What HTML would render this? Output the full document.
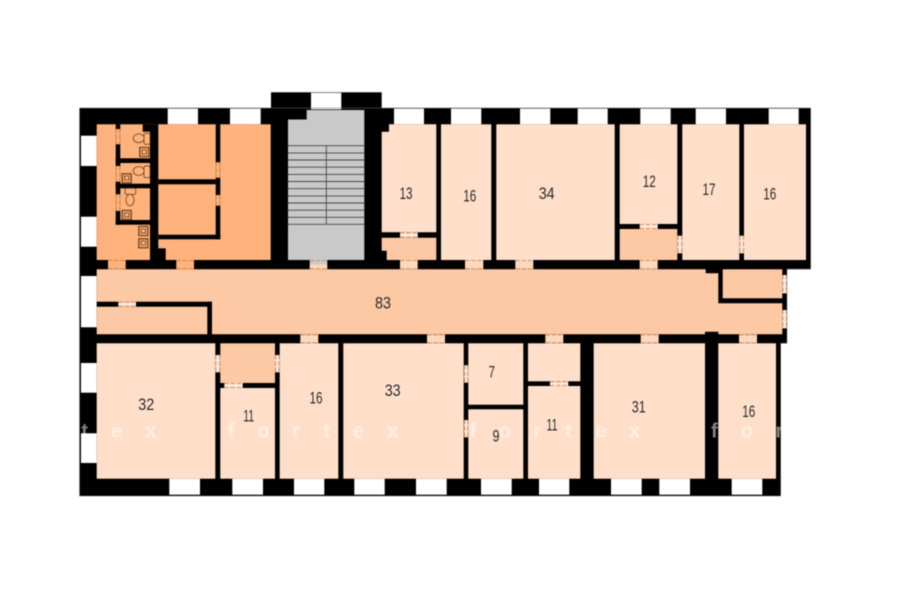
<!DOCTYPE html>
<html>
<head>
<meta charset="utf-8">
<style>
html,body{margin:0;padding:0;background:#fff;width:900px;height:604px;overflow:hidden}
svg{display:block;filter:blur(.4px)}
.k{fill:#000}
.w{fill:#fff}
.a{fill:#ffb27b}
.c{fill:#fdc9a4}
.r{fill:#ffdfca}
.d{fill:#fed8bd}
.l{fill:#ffe8da}
.o{fill:#ffb27b}
.dl{stroke:#cc9268;stroke-width:1.1;fill:none;stroke-dasharray:4.4 1.8}
.da{stroke:#c98650;stroke-width:1.1;fill:none;stroke-dasharray:4.4 1.8}
.t{fill:none;stroke:#7a4a25;stroke-width:.9}
.s{stroke:#444;stroke-width:.9}
.n{font-family:"Liberation Sans",sans-serif;font-size:16.5px;fill:#2a2a2a;text-anchor:middle}
.m{font-family:"Liberation Sans",sans-serif;font-size:20px;font-weight:bold;fill:#fff;fill-opacity:.5;text-anchor:middle}
</style>
</head>
<body>
<svg width="900" height="604" viewBox="0 0 900 604" xmlns="http://www.w3.org/2000/svg">
<rect width="900" height="604" fill="#fff"/>

<!-- black silhouette -->
<rect class="k" x="79.5" y="108" width="731.2" height="161.3"/>
<rect class="k" x="271" y="92.3" width="110.7" height="20"/>
<rect class="k" x="79.5" y="265" width="707.5" height="78.3"/>
<rect class="k" x="79.5" y="343" width="701.2" height="153"/>

<!-- windows -->
<g class="w">
<rect x="311" y="92.8" width="30.3" height="16.5"/>
<rect x="167.7" y="108.6" width="30.3" height="15.7"/>
<rect x="230" y="108.6" width="30.7" height="15.7"/>
<rect x="394" y="108.6" width="30" height="15.7"/>
<rect x="451" y="108.6" width="30.3" height="15.7"/>
<rect x="520" y="108.6" width="30.3" height="15.7"/>
<rect x="577.7" y="108.6" width="30" height="15.7"/>
<rect x="640.3" y="108.6" width="30.4" height="15.7"/>
<rect x="695.7" y="108.6" width="30.3" height="15.7"/>
<rect x="768.7" y="108.6" width="30" height="15.7"/>
<rect x="81" y="135.7" width="15.7" height="30.3"/>
<rect x="81" y="216.7" width="15.7" height="30"/>
<rect x="81" y="276" width="15.7" height="51.3"/>
<rect x="81" y="363" width="15.7" height="29.7"/>
<rect x="81" y="433.3" width="15.7" height="29.7"/>
<rect x="169.3" y="478.7" width="30.7" height="16"/>
<rect x="232.3" y="478.7" width="30.7" height="16"/>
<rect x="294" y="478.7" width="30.3" height="16"/>
<rect x="354.3" y="478.7" width="30.4" height="16"/>
<rect x="416" y="478.7" width="30.7" height="16"/>
<rect x="481" y="478.7" width="30.7" height="16"/>
<rect x="539" y="478.7" width="30.3" height="16"/>
<rect x="611" y="478.7" width="30.7" height="16"/>
<rect x="659.3" y="478.7" width="30.7" height="16"/>
<rect x="731.7" y="478.7" width="30.6" height="16"/>
</g>

<!-- left wing -->
<rect class="a" x="96.7" y="124.3" width="174" height="135.7"/>
<g class="k">
<rect x="115.7" y="124.3" width="4.6" height="100.4"/>
<rect x="115.7" y="158.3" width="34.3" height="4.7"/>
<rect x="115.7" y="183.7" width="34.3" height="4.6"/>
<rect x="115.7" y="220" width="34.3" height="4.7"/>
<rect x="150" y="124.3" width="8.3" height="135.7"/>
<rect x="142.7" y="124.3" width="7.3" height="7.4"/>
<rect x="150" y="248.3" width="15.7" height="11.7"/>
<rect x="215.7" y="124.3" width="4.6" height="115"/>
<rect x="158.3" y="179.3" width="57.4" height="5"/>
<rect x="158.3" y="234.7" width="62" height="4.6"/>
</g>

<!-- fixtures -->
<g class="t">
<ellipse cx="138.7" cy="138.3" rx="5.5" ry="4.4"/>
<rect x="144" y="133.3" width="6" height="11" rx="1.5" fill="#ffb27b"/>
<ellipse cx="138.7" cy="171" rx="5.5" ry="4.4"/>
<rect x="144" y="166" width="6" height="11.7" rx="1.5" fill="#ffb27b"/>
<ellipse cx="130" cy="200" rx="4" ry="5.8"/>
<rect x="125" y="188.3" width="10.7" height="6" rx="1.5" fill="#ffb27b"/>
<g stroke-width="1.4">
<rect x="139.8" y="147.5" width="9" height="9"/>
<rect x="122.2" y="173.8" width="9" height="9"/>
<rect x="122.2" y="210.5" width="9" height="9"/>
<rect x="138.8" y="226.5" width="9" height="9"/>
<rect x="138.8" y="238.8" width="9" height="9"/>
</g>
<rect x="142" y="150" width="4.5" height="4"/>
<rect x="124.5" y="176" width="4.5" height="4"/>
<rect x="124.5" y="213" width="4.5" height="4"/>
<rect x="141" y="229" width="4.5" height="4"/>
<rect x="141" y="241" width="4.5" height="4"/>
</g>

<!-- stairs -->
<path d="M306.7 110H364.3V260H288V119.5H306.7Z" fill="#c9c9c9"/>
<g class="s">
<path d="M288 145.7H364.3M288 152.9H364.3M288 160H364.3M288 167.2H364.3M288 174.4H364.3M288 181.5H364.3M288 188.7H364.3M288 195.9H364.3M288 203H364.3M288 210.2H364.3M288 217.3H364.3M288 224.3H364.3M326.3 145.7V224.3" fill="none"/>
</g>

<!-- upper rooms -->
<g class="r">
<path d="M389 124.3H436.3V232.3H381.7V131.7H389Z"/>
<rect x="441" y="124.3" width="50.3" height="135.7"/>
<rect x="496.3" y="124.3" width="118.4" height="135.7"/>
<rect x="619.7" y="124.3" width="57.6" height="99.7"/>
<rect x="682.3" y="124.3" width="57" height="135.7"/>
<rect x="744" y="124.3" width="62" height="135.7"/>
</g>
<g class="c">
<path d="M381.7 237.7H436.3V260H386.7V250.7H381.7Z"/>
<rect x="619.7" y="229" width="57.6" height="31"/>
</g>

<!-- corridor -->
<path class="c" d="M96.7 269.3H705.7V273.3H718.3V303.3H782.3V334.3H718.3V331.7H705V334.3H96.7Z"/>
<rect class="c" x="722.7" y="269.3" width="59.6" height="29"/>
<g class="k">
<rect x="96.7" y="301.7" width="115.3" height="5"/>
<rect x="207.3" y="301.7" width="4.7" height="33"/>
</g>

<!-- lower rooms -->
<g class="r">
<rect x="96.7" y="343.3" width="118.6" height="135.4"/>
<rect x="220.3" y="388" width="54.7" height="90.7"/>
<rect x="279.7" y="343.3" width="58.6" height="135.4"/>
<rect x="343.3" y="343.3" width="120.4" height="135.4"/>
<rect x="468.3" y="343.3" width="55" height="61.4"/>
<rect x="468.3" y="409.3" width="55" height="69.4"/>
<rect x="528" y="343.3" width="52.3" height="38"/>
<rect x="528" y="386" width="52.3" height="92.7"/>
<rect x="593.7" y="343.3" width="111.3" height="135.4"/>
<rect x="718.3" y="343.3" width="57.7" height="135.4"/>
</g>
<rect class="c" x="220.3" y="343.3" width="54.7" height="39.7"/>

<!-- doors -->
<g class="o">
<rect x="108" y="260" width="17.7" height="9.3"/>
<rect x="176.3" y="260" width="17.7" height="9.3"/>
<rect x="115.7" y="129" width="4.6" height="15.3"/>
<rect x="115.7" y="166" width="4.6" height="15.7"/>
<rect x="115.7" y="194.3" width="4.6" height="16.7"/>
<rect x="215.7" y="162.3" width="4.6" height="15.4"/>
<rect x="215.7" y="195" width="4.6" height="10.7"/>
</g>
<rect x="309.7" y="260" width="17.6" height="4.5" fill="#c9c9c9"/>
<rect class="d" x="309.7" y="264.5" width="17.6" height="4.8"/>
<g class="d">
<rect x="400" y="260" width="17.7" height="9.3"/>
<rect x="465" y="260" width="18.3" height="9.3"/>
<rect x="515.3" y="260" width="18" height="9.3"/>
<rect x="639.7" y="260" width="18" height="9.3"/>
<rect x="300.3" y="334.3" width="18" height="9"/>
<rect x="427" y="334.3" width="18" height="9"/>
<rect x="545.3" y="334.3" width="18" height="9"/>
<rect x="640.7" y="334.3" width="18" height="9"/>
<rect x="739" y="334.3" width="18" height="9"/>
</g>
<g class="l">
<rect x="118.3" y="301.7" width="17.7" height="5"/>
<rect x="400" y="232.3" width="17.7" height="5.4"/>
<rect x="639.7" y="224" width="18" height="5"/>
<rect x="224.3" y="383" width="18.4" height="5"/>
<rect x="550" y="381.3" width="18.3" height="4.7"/>
<rect x="677.3" y="235.7" width="5" height="17.6"/>
<rect x="739.3" y="235.7" width="4.7" height="17.6"/>
<rect x="782.3" y="275" width="4.7" height="18.3"/>
<rect x="782.3" y="310" width="4.7" height="18.3"/>
<rect x="215.3" y="355" width="5" height="17.3"/>
<rect x="275" y="355" width="4.7" height="17.3"/>
<rect x="464" y="365.3" width="4.3" height="17.4"/>
<rect x="464" y="420" width="4.3" height="17.3"/>
</g>
<path class="da" d="M108 260.5h17.7M108 268.8h17.7M176.3 260.5h17.7M176.3 268.8h17.7M116.2 129v15.3M119.8 129v15.3M116.2 166v15.7M119.8 166v15.7M116.2 194.3v16.7M119.8 194.3v16.7M216.2 162.3v15.4M219.8 162.3v15.4M216.2 195v10.7M219.8 195v10.7"/>
<path class="dl" d="M309.7 260.5h17.6M309.7 268.8h17.6M400 260.5h17.7M400 268.8h17.7M465 260.5h18.3M465 268.8h18.3M515.3 260.5h18M515.3 268.8h18M639.7 260.5h18M639.7 268.8h18M300.3 334.8h18M300.3 342.8h18M427 334.8h18M427 342.8h18M545.3 334.8h18M545.3 342.8h18M640.7 334.8h18M640.7 342.8h18M739 334.8h18M739 342.8h18M118.3 302.2h17.7M118.3 306.2h17.7M400 232.8h17.7M400 237.2h17.7M639.7 224.5h18M639.7 228.5h18M224.3 383.5h18.4M224.3 387.5h18.4M550 381.8h18.3M550 385.5h18.3"/>
<path class="dl" d="M677.8 235.7v17.6M681.8 235.7v17.6M739.8 235.7v17.6M743.5 235.7v17.6M782.8 275v18.3M786.5 275v18.3M782.8 310v18.3M786.5 310v18.3M215.8 355v17.3M219.8 355v17.3M275.5 355v17.3M279.2 355v17.3M464.5 365.3v17.4M467.8 365.3v17.4M464.5 420v17.3M467.8 420v17.3"/>

<!-- thin outline -->
<path d="M79.5 108H810.7V269H787V343.3H780.7V496H79.5Z" fill="none" stroke="#777" stroke-width=".5"/>

<!-- room labels -->
<g class="n" lengthAdjust="spacingAndGlyphs">
<text x="406" y="199" textLength="13" lengthAdjust="spacingAndGlyphs">13</text>
<text x="469.7" y="201.5" textLength="13" lengthAdjust="spacingAndGlyphs">16</text>
<text x="546.7" y="199" textLength="16" lengthAdjust="spacingAndGlyphs">34</text>
<text x="649.3" y="187" textLength="13" lengthAdjust="spacingAndGlyphs">12</text>
<text x="709" y="195" textLength="13" lengthAdjust="spacingAndGlyphs">17</text>
<text x="769.7" y="199.3" textLength="13" lengthAdjust="spacingAndGlyphs">16</text>
<text x="383" y="308.3" textLength="16" lengthAdjust="spacingAndGlyphs">83</text>
<text x="146.3" y="410" textLength="16" lengthAdjust="spacingAndGlyphs">32</text>
<text x="248.7" y="421.3" textLength="11" lengthAdjust="spacingAndGlyphs">11</text>
<text x="316" y="403.7" textLength="13" lengthAdjust="spacingAndGlyphs">16</text>
<text x="392.7" y="396" textLength="16" lengthAdjust="spacingAndGlyphs">33</text>
<text x="491.7" y="377.7" textLength="6.5" lengthAdjust="spacingAndGlyphs">7</text>
<text x="496" y="441.7" textLength="7" lengthAdjust="spacingAndGlyphs">9</text>
<text x="552" y="430.7" textLength="11" lengthAdjust="spacingAndGlyphs">11</text>
<text x="638.7" y="412.7" textLength="14" lengthAdjust="spacingAndGlyphs">31</text>
<text x="748.7" y="417" textLength="13" lengthAdjust="spacingAndGlyphs">16</text>
</g>

<!-- watermark -->
<g class="m">
<text x="84.7" y="437.7">t</text>
<text x="116.7" y="437.7">e</text>
<text x="150.7" y="437.7">x</text>
<text x="231" y="437.7">f</text>
<text x="263.3" y="437.7">o</text>
<text x="296" y="437.7">r</text>
<text x="326.7" y="437.7">t</text>
<text x="358.3" y="437.7">e</text>
<text x="392.7" y="437.7">x</text>
<text x="472.7" y="437.7">f</text>
<text x="505" y="437.7">o</text>
<text x="537.3" y="437.7">r</text>
<text x="568.3" y="437.7">t</text>
<text x="600.7" y="437.7">e</text>
<text x="634.3" y="437.7">x</text>
<text x="714.3" y="437.7">f</text>
<text x="746.7" y="437.7">o</text>
<text x="779.3" y="437.7">r</text>
</g>
</svg>
</body>
</html>
